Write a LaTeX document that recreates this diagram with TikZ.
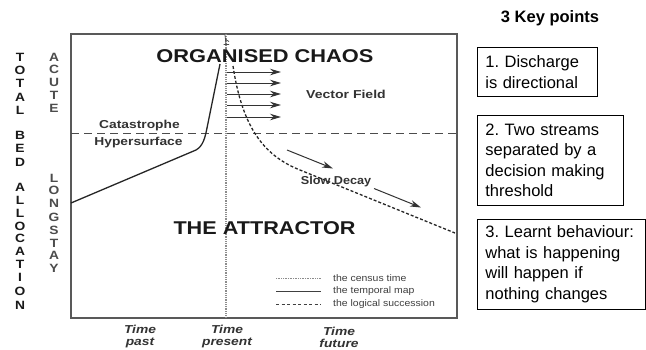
\documentclass[tikz,border=0pt]{standalone}
\usepackage{fontspec}
\setmainfont{Liberation Sans}
\usetikzlibrary{arrows.meta}
\frenchspacing
\begin{document}
\begin{tikzpicture}[x=1pt,y=-1pt,
  frame/.style={draw=black!65, line width=1.4pt},
  census/.style={draw=black!45, line width=1.3pt, dash pattern=on 1pt off 0.8pt},
  temporal/.style={draw=black!85, line width=1.3pt},
  logical/.style={draw=black!85, line width=1.3pt, dash pattern=on 3pt off 2pt},
  thresh/.style={draw=black!70, line width=1pt, dash pattern=on 8pt off 5pt},
  vec/.style={draw=black!80, line width=1pt, -{Stealth[length=11pt,width=6.5pt]}},
  bigl/.style={font=\bfseries\fontsize{18.5}{20}\selectfont, inner sep=0pt, text=black!90},
  lab/.style={font=\bfseries\fontsize{11.5}{13}\selectfont, inner sep=0pt, text=black!80},
  leg/.style={font=\fontsize{9.5}{11}\selectfont, inner sep=0pt, text=black!75, anchor=west},
  legline/.style={line width=1pt},
  vlet/.style={font=\bfseries\fontsize{12}{13}\selectfont, inner sep=0pt, text=black!90},
  vlet2/.style={font=\bfseries\fontsize{12}{13}\selectfont, inner sep=0pt, text=black!70},
  tlab/.style={font=\bfseries\itshape\fontsize{11.5}{12}\selectfont, inner sep=0pt, align=center, text=black!80},
  kbox/.style={draw=black, line width=0.8pt, anchor=north west, inner xsep=8pt, inner ysep=0pt, align=left,
    font=\fontsize{16.5}{20.5}\selectfont},
]
\useasboundingbox (0,0) rectangle (646,349);
\fill[white] (0,0) rectangle (646,349);

% frame
\coordinate (ftl) at (71,34);
\coordinate (fbr) at (457,318);
\draw[frame] (ftl) rectangle (fbr);

% threshold (catastrophe hypersurface)
\coordinate (thl) at (71,133);
\coordinate (thr) at (457,133);
\draw[thresh] (thl) -- (thr);

% census time
\coordinate (ct) at (226,34);
\coordinate (cb) at (226,318);
\draw[census] (ct) -- (cb);
\draw[black!70, line width=0.8pt] (225,35) -- (226,44) (225.5,39.5) -- (229,41.5) (223.5,44.5) -- (229,44.5);

% temporal map
\coordinate (tm0) at (71,203);
\coordinate (tm1) at (196,150);
\coordinate (tm2) at (207,128);
\coordinate (tm3) at (220,64);
\draw[temporal] (tm0) -- (tm1) .. controls (203,146) and (205,138) .. (tm2) -- (tm3);

% logical succession
\coordinate (ls0) at (233,66);
\coordinate (ls1) at (300,170);
\coordinate (ls2) at (455,233);
\draw[logical] (ls0) .. controls (242,125) and (262,155) .. (ls1) -- (ls2);

% vector field
\foreach \yy in {72,83,94,105,117}{
  \coordinate (va\yy) at (227,\yy);
  \coordinate (vb\yy) at (281,\yy);
  \draw[vec] (va\yy) -- (vb\yy);
}

% slow decay arrows
\coordinate (sd1a) at (287,150);
\coordinate (sd1b) at (333,168.5);
\coordinate (sd2a) at (374,188.5);
\coordinate (sd2b) at (421,207.5);
\draw[vec] (sd1a) -- (sd1b);
\draw[vec] (sd2a) -- (sd2b);

% big labels
\node[bigl] (oc) at (265,56.5) {\scalebox{1.18}[1]{ORGANISED CHAOS}};
\node[bigl] (at) at (264.5,228) {\scalebox{1.17}[1]{THE ATTRACTOR}};

% small labels
\node[lab] (vf) at (346,94) {\scalebox{1.22}[1]{Vector Field}};
\node[lab] (cat) at (139.5,125.5) {\scalebox{1.2}[1]{Catastrophe}};
\node[lab] (hyp) at (138.5,143) {\scalebox{1.2}[1]{Hypersurface}};
\node[lab] (sd) at (336,181.5) {\scalebox{1.1}[1]{Slow Decay}};

% legend
\coordinate (l1a) at (276,278); \coordinate (l1b) at (321,278);
\coordinate (l2a) at (276,291); \coordinate (l2b) at (321,291);
\coordinate (l3a) at (276,304); \coordinate (l3b) at (321,304);
\draw[legline, black!45, dash pattern=on 1pt off 0.7pt] (l1a) -- (l1b);
\draw[legline, black!75] (l2a) -- (l2b);
\draw[legline, black!75, dash pattern=on 3pt off 2.5pt] (l3a) -- (l3b);
\node[leg] (lt1) at (333,278) {\scalebox{1.1}[1]{the census time}};
\node[leg] (lt2) at (333,291) {\scalebox{1.1}[1]{the temporal map}};
\node[leg] (lt3) at (333,304) {\scalebox{1.1}[1]{the logical succession}};

% time labels
\node[tlab] (tp) at (140,337) {\scalebox{1.2}[1]{Time}\\\scalebox{1.2}[1]{past}};
\node[tlab] (tn) at (227,337) {\scalebox{1.2}[1]{Time}\\\scalebox{1.2}[1]{present}};
\node[tlab] (tf) at (339,337) {\scalebox{1.2}[1]{Time}\\\scalebox{1.2}[1]{future}};

% vertical axis letters
\foreach \ch/\yy in {T/57,O/70,T/83,A/97,L/110,B/135,E/148,D/162,A/187,L/200,L/213,O/226,C/238,A/251,T/264,I/277,O/291,N/305}{
  \node[vlet] (w\yy) at (20,\yy) {\scalebox{1.15}[1]{\ch}};
}
\foreach \ch/\yy in {A/57,C/69.5,U/82.5,T/95,E/108,L/178,O/190.5,N/203.5,G/217,S/230,T/243,A/255.5,Y/268}{
  \node[vlet2] (u\yy) at (54,\yy) {\scalebox{1.15}[1]{\ch}};
}

% key points
\node[font=\bfseries\fontsize{16.5}{18}\selectfont, inner sep=0pt] (kp) at (550,18.5) {3 Key points};
\node[kbox, minimum width=120pt, minimum height=49pt, text width=104pt] (k1) at (477,47)
  {1. Discharge\\is directional};
\node[kbox, minimum width=146pt, minimum height=90pt, text width=130pt] (k2) at (477,115)
  {2. Two streams\\separated by a\\decision making\\threshold};
\node[kbox, minimum width=168pt, minimum height=90pt, text width=152pt] (k3) at (477,219)
  {3. Learnt behaviour:\\what is happening\\will happen if\\nothing changes};
\end{tikzpicture}
\end{document}
